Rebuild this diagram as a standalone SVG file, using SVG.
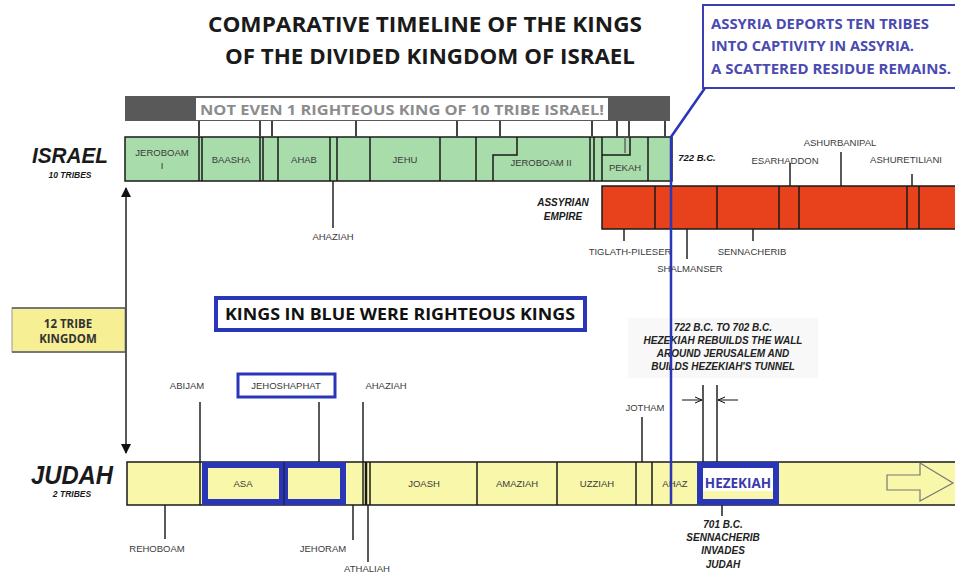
<svg xmlns="http://www.w3.org/2000/svg" width="955" height="574" viewBox="0 0 955 574">
<defs>
<style>
.title{font-family:"Open Sans","Liberation Sans",sans-serif;font-weight:bold;font-size:21px;fill:#1a1a1a;}
.ass{font-family:"Open Sans","Liberation Sans",sans-serif;font-weight:bold;font-size:13.5px;fill:#4a4ab0;}
.lbl{font-family:"Liberation Sans",Arial,sans-serif;font-size:9.5px;fill:#3a3a3a;text-anchor:middle;}
.note{font-family:"Liberation Sans",Arial,sans-serif;font-size:10px;font-weight:bold;font-style:italic;fill:#222;text-anchor:middle;}
.big{font-family:"Liberation Sans",Arial,sans-serif;font-weight:bold;font-style:italic;fill:#1a1a1a;text-anchor:middle;}
.ln{stroke:#222;stroke-width:1.5;fill:none;}
.tk{stroke:#444;stroke-width:2;fill:none;}
.dv{stroke:#1a1a1a;stroke-width:1.5;}
</style>
<marker id="ah" markerWidth="10" markerHeight="10" refX="9" refY="5" orient="auto-start-reverse" markerUnits="userSpaceOnUse">
<path d="M0,0 L10,5 L0,10 Z" fill="#111"/>
</marker>
<marker id="sa" markerWidth="8" markerHeight="8" refX="7" refY="4" orient="auto" markerUnits="userSpaceOnUse">
<path d="M0,1 L7,4 L0,7" fill="none" stroke="#111" stroke-width="1"/>
</marker>
</defs>
<rect width="955" height="574" fill="#fff"/>

<g id="title">
<text class="title" x="208" y="32" textLength="434" lengthAdjust="spacingAndGlyphs">COMPARATIVE TIMELINE OF THE KINGS</text>
<text class="title" x="225" y="64" textLength="410" lengthAdjust="spacingAndGlyphs">OF THE DIVIDED KINGDOM OF ISRAEL</text>
</g>

<g id="assyria-note">
<rect x="703" y="5" width="262" height="83" fill="#fff" stroke="#3b3fb0" stroke-width="2"/>
<text class="ass" x="711" y="29" textLength="218" lengthAdjust="spacingAndGlyphs">ASSYRIA DEPORTS TEN TRIBES</text>
<text class="ass" x="711" y="51" textLength="203" lengthAdjust="spacingAndGlyphs">INTO CAPTIVITY IN ASSYRIA.</text>
<text class="ass" x="711" y="74" textLength="240" lengthAdjust="spacingAndGlyphs">A SCATTERED RESIDUE REMAINS.</text>
</g>

<g id="not-even-bar">
<rect x="125" y="96" width="545" height="25" fill="#595959"/>
<rect x="196" y="98" width="412" height="22" fill="#fff"/>
<text x="200" y="115" font-family="Open Sans,Liberation Sans,sans-serif" font-weight="bold" font-size="14" fill="#8c8c8c" textLength="404" lengthAdjust="spacingAndGlyphs">NOT EVEN 1 RIGHTEOUS KING OF 10 TRIBE ISRAEL!</text>
</g>

<g id="israel-label">
<text class="big" x="70" y="163" font-size="22" textLength="76" lengthAdjust="spacingAndGlyphs">ISRAEL</text>
<text class="big" x="70" y="178" font-size="8.5">10 TRIBES</text>
</g>

<g id="israel-bar">
<rect x="125" y="137" width="547" height="44" fill="#a8dcaa" stroke="#1a1a1a" stroke-width="1.5"/>
<g class="dv">
<line x1="199" y1="137" x2="199" y2="181"/><line x1="202" y1="137" x2="202" y2="181"/>
<line x1="260" y1="137" x2="260" y2="181"/><line x1="263" y1="137" x2="263" y2="181"/>
<line x1="278" y1="137" x2="278" y2="181"/>
<line x1="330" y1="137" x2="330" y2="181"/><line x1="337" y1="137" x2="337" y2="181"/>
<line x1="370" y1="137" x2="370" y2="181"/>
<line x1="440" y1="137" x2="440" y2="181"/>
<line x1="476" y1="137" x2="476" y2="181"/>
<polyline points="517,137 517,155 493,155 493,181" fill="none"/>
<line x1="590" y1="137" x2="590" y2="181"/><line x1="594" y1="137" x2="594" y2="181"/>
<line x1="602" y1="137" x2="602" y2="181"/>
<polyline points="602,155 630,155 630,137" fill="none"/>
<line x1="625" y1="137" x2="625" y2="153" stroke="#666"/>
<line x1="648" y1="137" x2="648" y2="181"/>
</g>
<text class="lbl" x="162" y="156">JEROBOAM</text>
<text class="lbl" x="162" y="169">I</text>
<text class="lbl" x="231" y="163">BAASHA</text>
<text class="lbl" x="304" y="163">AHAB</text>
<text class="lbl" x="405" y="163">JEHU</text>
<text class="lbl" x="541" y="166">JEROBOAM II</text>
<text class="lbl" x="625" y="171">PEKAH</text>
</g>

<g id="assyrian-empire">
<text class="big" x="563" y="206" font-size="10">ASSYRIAN</text>
<text class="big" x="563" y="220" font-size="10">EMPIRE</text>
<rect x="602" y="186" width="360" height="43" fill="#e8421c" stroke="#1a1a1a" stroke-width="1.5"/>
<g class="dv">
<line x1="655" y1="186" x2="655" y2="229"/>
<line x1="717" y1="186" x2="717" y2="229"/>
<line x1="779" y1="186" x2="779" y2="229"/>
<line x1="799" y1="186" x2="799" y2="229"/>
<line x1="907" y1="186" x2="907" y2="229"/>
<line x1="919" y1="186" x2="919" y2="229"/>
</g>
<text class="big" x="697" y="161" font-size="9.5">722 B.C.</text>
<text class="lbl" x="785" y="164">ESARHADDON</text>
<text class="lbl" x="840" y="146">ASHURBANIPAL</text>
<text class="lbl" x="906" y="163">ASHURETILIANI</text>
<text class="lbl" x="630" y="255">TIGLATH-PILESER</text>
<text class="lbl" x="690" y="272">SHALMANSER</text>
<text class="lbl" x="752" y="255">SENNACHERIB</text>
</g>

<g id="twelve-tribe">
<rect x="12" y="308" width="113" height="44" fill="#f6ef93" stroke="#9a9a9a" stroke-width="1"/>
<line x1="12" y1="308" x2="125" y2="308" stroke="#777" stroke-width="2"/>
<line x1="12" y1="352" x2="125" y2="352" stroke="#777" stroke-width="2"/>
<text x="68" y="328" font-family="Open Sans,Liberation Sans,sans-serif" font-weight="bold" font-size="11.5" fill="#333" text-anchor="middle">12 TRIBE</text>
<text x="68" y="343" font-family="Open Sans,Liberation Sans,sans-serif" font-weight="bold" font-size="11.5" fill="#333" text-anchor="middle">KINGDOM</text>
</g>

<g id="legend">
<rect x="216" y="298" width="369" height="32" fill="#fff" stroke="#2a36b8" stroke-width="4"/>
<text x="400" y="320" font-family="Open Sans,Liberation Sans,sans-serif" font-weight="bold" font-size="16" fill="#111" text-anchor="middle" textLength="350" lengthAdjust="spacingAndGlyphs">KINGS IN BLUE WERE RIGHTEOUS KINGS</text>
</g>

<g id="hezekiah-note">
<rect x="628" y="318" width="190" height="60" fill="#f8f8f8"/>
<text class="note" x="723" y="331">722 B.C. TO 702 B.C.</text>
<text class="note" x="723" y="344">HEZEKIAH REBUILDS THE WALL</text>
<text class="note" x="723" y="357">AROUND JERUSALEM AND</text>
<text class="note" x="723" y="370">BUILDS HEZEKIAH'S TUNNEL</text>
</g>

<g id="judah-label">
<text class="big" x="72" y="484" font-size="25" textLength="82" lengthAdjust="spacingAndGlyphs">JUDAH</text>
<text class="big" x="72" y="497" font-size="8.5">2 TRIBES</text>
</g>

<g id="judah-bar">
<rect x="127" y="462" width="835" height="43" fill="#f9f7a9" stroke="#1a1a1a" stroke-width="1.5"/>
<g class="dv">
<line x1="200" y1="462" x2="200" y2="505"/>
<line x1="366" y1="462" x2="366" y2="505" stroke-width="2.5"/>
<line x1="370" y1="462" x2="370" y2="505"/>
<line x1="477" y1="462" x2="477" y2="505"/>
<line x1="557" y1="462" x2="557" y2="505"/>
<line x1="636" y1="462" x2="636" y2="505"/>
<line x1="652" y1="462" x2="652" y2="505"/>
</g>
<rect x="205" y="465" width="77" height="37" fill="#f9f7a9" stroke="#2a36b8" stroke-width="6"/>
<rect x="285" y="465" width="58" height="37" fill="#f9f7a9" stroke="#2a36b8" stroke-width="6"/>
<line x1="284" y1="462" x2="284" y2="505" stroke="#1a1a1a" stroke-width="1"/>
<rect x="700" y="465" width="76" height="37" fill="#fff" stroke="#2a36b8" stroke-width="6"/>
<rect x="703" y="491" width="70" height="8" fill="#f9f7a9"/>
<text class="lbl" x="243" y="487">ASA</text>
<text class="lbl" x="424" y="487">JOASH</text>
<text class="lbl" x="517" y="487">AMAZIAH</text>
<text class="lbl" x="597" y="487">UZZIAH</text>
<text class="lbl" x="675" y="487">AHAZ</text>
<text x="738" y="488" font-family="Open Sans,Liberation Sans,sans-serif" font-weight="bold" font-size="13.5" fill="#3a3ab0" text-anchor="middle">HEZEKIAH</text>
<path d="M887,475 L920,475 L920,463 L953,483 L920,501 L920,490 L887,490 Z" fill="none" stroke="#777" stroke-width="1.2"/>
</g>

<g id="jehoshaphat-label">
<rect x="238" y="374" width="97" height="23" fill="#fff" stroke="#2a36b8" stroke-width="3"/>
<text class="lbl" x="286" y="389">JEHOSHAPHAT</text>
</g>

<g id="judah-labels">
<text class="lbl" x="187" y="389">ABIJAM</text>
<text class="lbl" x="386" y="389">AHAZIAH</text>
<text class="lbl" x="645" y="411">JOTHAM</text>
<text class="lbl" x="157" y="552">REHOBOAM</text>
<text class="lbl" x="323" y="552">JEHORAM</text>
<text class="lbl" x="367" y="572">ATHALIAH</text>
<text class="lbl" x="333" y="240">AHAZIAH</text>
<text class="note" x="723" y="528">701 B.C.</text>
<text class="note" x="723" y="541">SENNACHERIB</text>
<text class="note" x="723" y="554">INVADES</text>
<text class="note" x="723" y="568">JUDAH</text>
</g>

<g id="connectors">
<g class="tk">
<line x1="199" y1="121" x2="199" y2="137"/>
<line x1="260" y1="121" x2="260" y2="137"/>
<line x1="272" y1="121" x2="272" y2="137"/>
<line x1="356" y1="121" x2="356" y2="137"/>
<line x1="457" y1="121" x2="457" y2="137"/>
<line x1="500" y1="121" x2="500" y2="137"/>
<line x1="592" y1="121" x2="592" y2="137"/>
<line x1="617" y1="121" x2="617" y2="137"/>
<line x1="629" y1="121" x2="629" y2="137"/>
<line x1="665" y1="121" x2="665" y2="137"/>
</g>
<line class="ln" x1="333" y1="181" x2="333" y2="228"/>
<line class="ln" x1="790" y1="163" x2="790" y2="186"/>
<line class="ln" x1="841" y1="152" x2="841" y2="186"/>
<line class="ln" x1="912" y1="174" x2="912" y2="186"/>
<line class="ln" x1="624" y1="229" x2="624" y2="241"/>
<line class="ln" x1="687" y1="229" x2="687" y2="259"/>
<line class="ln" x1="753" y1="229" x2="753" y2="241"/>
<line class="ln" x1="126" y1="188" x2="126" y2="453" marker-start="url(#ah)" marker-end="url(#ah)"/>
<line class="ln" x1="200" y1="402" x2="200" y2="462"/>
<line class="ln" x1="319" y1="402" x2="319" y2="462"/>
<line class="ln" x1="363" y1="402" x2="363" y2="505"/>
<line class="ln" x1="368" y1="505" x2="368" y2="562"/>
<line class="ln" x1="165" y1="505" x2="165" y2="539"/>
<line class="ln" x1="353" y1="505" x2="353" y2="540"/>
<line class="ln" x1="642" y1="417" x2="642" y2="462"/>
<line class="ln" x1="703" y1="385" x2="703" y2="462"/>
<line class="ln" x1="717" y1="385" x2="717" y2="462"/>
<line x1="682" y1="400" x2="702" y2="400" stroke="#111" stroke-width="1" marker-end="url(#sa)"/>
<line x1="738" y1="400" x2="718" y2="400" stroke="#111" stroke-width="1" marker-end="url(#sa)"/>
<line class="ln" x1="722" y1="505" x2="722" y2="516"/>
<polyline points="705,88 671,137 671,504" fill="none" stroke="#2a36b8" stroke-width="2.5"/>
</g>
</svg>
